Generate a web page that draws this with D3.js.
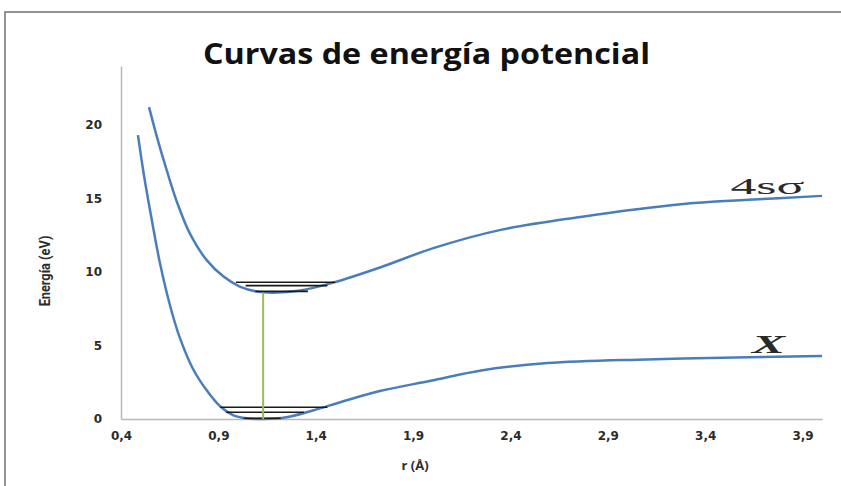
<!DOCTYPE html>
<html>
<head>
<meta charset="utf-8">
<script src="https://cdn.jsdelivr.net/npm/d3@7"></script>
<style>
  body { margin: 0; background: #fff; }
</style>
</head>
<body>
<div id="chart"></div>
<script>
// ground state X curve (r in Å, energy in eV)
let rX = [0.487, 0.52, 0.56, 0.60, 0.65, 0.70, 0.77, 0.84, 0.91, 0.975, 1.045, 1.13, 1.25, 1.39, 1.53, 1.73, 1.99, 2.25, 2.59, 3.1, 3.62, 4.0];
let eX = [19.3, 16.4, 13.4, 10.6, 7.8, 5.6, 3.4, 1.95, 0.85, 0.27, 0.05, 0.0, 0.12, 0.6, 1.16, 1.9, 2.6, 3.3, 3.8, 4.05, 4.2, 4.29];

// excited 4sσ curve
let rS = [0.544, 0.584, 0.635, 0.686, 0.754, 0.84, 0.925, 1.01, 1.10, 1.18, 1.32, 1.49, 1.73, 2.0, 2.35, 2.76, 3.275, 3.62, 4.0];
let eS = [21.2, 19.2, 16.9, 14.8, 12.6, 10.8, 9.7, 9.0, 8.66, 8.59, 8.73, 9.27, 10.3, 11.6, 12.86, 13.74, 14.6, 14.9, 15.17];

// vibrational levels: energy, r start, r end
let levelE = [0.8, 0.46, 0.05, 9.3, 9.07, 8.68];
let levelR0 = [0.91, 0.94, 1.03, 0.99, 1.04, 1.09];
let levelR1 = [1.46, 1.34, 1.22, 1.50, 1.46, 1.36];

// vertical transition
let transR = 1.13;
let transE = [0, 8.6];

let xTicks = [0.4, 0.9, 1.4, 1.9, 2.4, 2.9, 3.4, 3.9];
let yTicks = [0, 5, 10, 15, 20];

let svgWidth = 841,
    svgHeight = 486;

let margin = { top: 66, right: 19, bottom: 67, left: 121 };
let chartWidth = svgWidth - margin.left - margin.right;
let chartHeight = svgHeight - margin.top - margin.bottom;

let svg = d3.select('#chart')
    .append('svg')
    .attr('width', svgWidth)
    .attr('height', svgHeight);

// outer frame (top and left only)
svg.append('path')
    .attr('d', 'M5,486V12H841')
    .attr('fill', 'none')
    .attr('stroke', '#6f6f6f')
    .attr('stroke-width', 1.5);

let chartGroup = svg.append('g')
    .attr('transform', `translate(${margin.left}, ${margin.top})`);

let xScale = d3.scaleLinear()
    .domain([0.4, 4.0])
    .range([0, chartWidth]);

let yScale = d3.scaleLinear()
    .domain([0, 24])
    .range([chartHeight, 0]);

// axes
let bottomAxis = d3.axisBottom(xScale)
    .tickValues(xTicks)
    .tickSize(0)
    .tickPadding(12)
    .tickFormat(d => d3.format('.1f')(d).replace('.', ','));

let leftAxis = d3.axisLeft(yScale)
    .tickValues(yTicks)
    .tickSize(0)
    .tickPadding(19);

let gx = chartGroup.append('g')
    .attr('transform', `translate(0, ${chartHeight})`)
    .call(bottomAxis);

let gy = chartGroup.append('g')
    .call(leftAxis);

[gx, gy].forEach(g => {
    g.select('.domain').attr('stroke', '#b8b8b8').attr('stroke-width', 1.5);
    g.selectAll('text')
        .attr('fill', '#2b2b2b')
        .style('font-family', 'DejaVu Sans')
        .style('font-weight', 'bold')
        .style('font-size', '12px');
});

// curves
let line = d3.line()
    .x(d => xScale(d[0]))
    .y(d => yScale(d[1]))
    .curve(d3.curveCatmullRom.alpha(0.5));

let curves = [d3.zip(rX, eX), d3.zip(rS, eS)];

chartGroup.selectAll('.curve')
    .data(curves)
    .enter()
    .append('path')
    .attr('class', 'curve')
    .attr('d', line)
    .attr('fill', 'none')
    .attr('stroke', '#4a7ebb')
    .attr('stroke-width', 2.5);

// vibrational levels
chartGroup.selectAll('.level')
    .data(levelE)
    .enter()
    .append('line')
    .attr('class', 'level')
    .attr('x1', (d, i) => xScale(levelR0[i]))
    .attr('x2', (d, i) => xScale(levelR1[i]))
    .attr('y1', d => yScale(d))
    .attr('y2', d => yScale(d))
    .attr('stroke', '#1a1a1a')
    .attr('stroke-width', 1.6);

// vertical transition
chartGroup.append('line')
    .attr('x1', xScale(transR))
    .attr('x2', xScale(transR))
    .attr('y1', yScale(transE[0]))
    .attr('y2', yScale(transE[1]))
    .attr('stroke', '#9bbb59')
    .attr('stroke-width', 2);

// curve labels
chartGroup.append('text')
    .attr('x', xScale(3.53))
    .attr('y', yScale(15.3))
    .attr('textLength', 74)
    .attr('lengthAdjust', 'spacingAndGlyphs')
    .style('font-family', 'Liberation Serif')
    .style('font-size', '24px')
    .attr('fill', '#2a2a2a')
    .text('4sσ');

chartGroup.append('text')
    .attr('x', xScale(3.64))
    .attr('y', yScale(4.5))
    .attr('textLength', 33)
    .attr('lengthAdjust', 'spacingAndGlyphs')
    .style('font-family', 'Liberation Serif')
    .style('font-size', '25px')
    .style('font-style', 'italic')
    .style('font-weight', 'bold')
    .attr('fill', '#2a2a2a')
    .text('X');

// title
svg.append('text')
    .attr('x', 203)
    .attr('y', 64)
    .attr('textLength', 447)
    .attr('lengthAdjust', 'spacingAndGlyphs')
    .style('font-family', 'Open Sans')
    .style('font-weight', 'bold')
    .style('font-size', '29px')
    .attr('fill', '#111')
    .text('Curvas de energía potencial');

// axis titles
svg.append('text')
    .attr('x', margin.left + xScale(1.9) + 2)
    .attr('y', 470)
    .attr('text-anchor', 'middle')
    .style('font-family', 'Open Sans')
    .style('font-weight', 'bold')
    .style('font-size', '13px')
    .attr('fill', '#2b2b2b')
    .text('r (Å)');

svg.append('text')
    .attr('transform', 'translate(50, 271) rotate(-90) scale(0.85, 1)')
    .attr('text-anchor', 'middle')
    .style('font-family', 'Roboto')
    .style('font-weight', 'bold')
    .style('font-size', '15px')
    .attr('fill', '#2b2b2b')
    .text('Energía (eV)');
</script>
</body>
</html>
